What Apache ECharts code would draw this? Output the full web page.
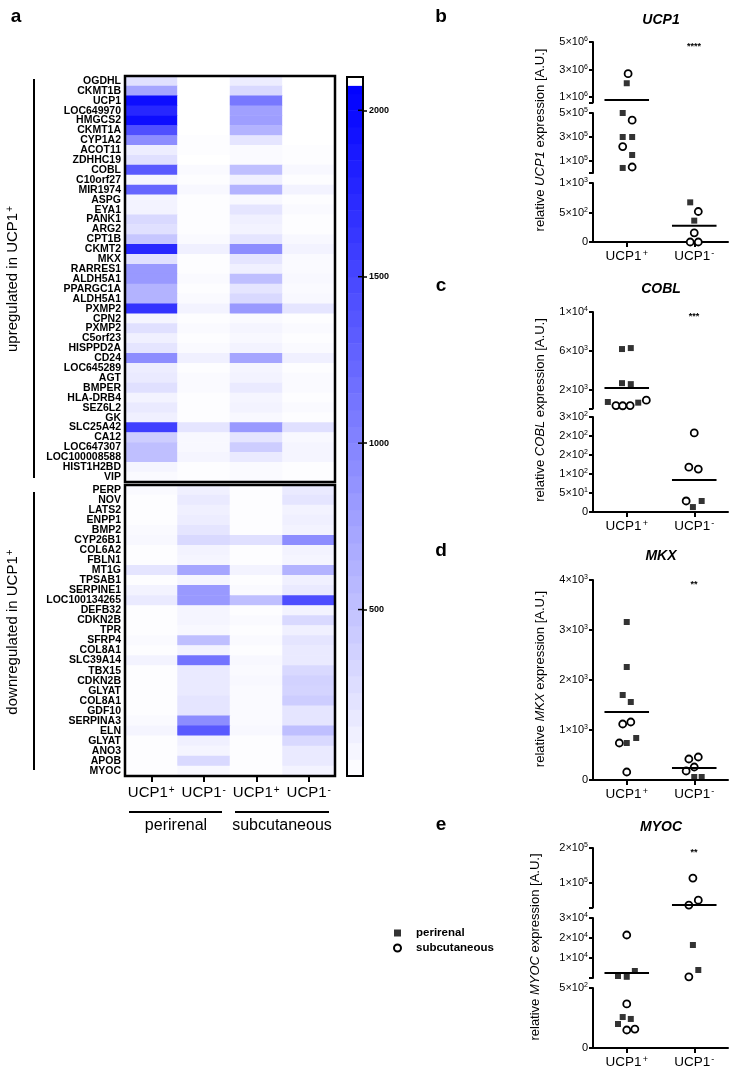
<!DOCTYPE html>
<html>
<head>
<meta charset="utf-8">
<script src="https://cdn.jsdelivr.net/npm/echarts@6/dist/echarts.min.js"></script>
<style>
html, body { margin: 0; padding: 0; background: #fff; }
#chart { width: 733px; height: 1071px; }
</style>
</head>
<body>
<div id="chart"></div>
<script>
const FONT = '"Liberation Sans", Arial, sans-serif';

// ---- panel a: heatmap ----
const heatCols = ['UCP1+', 'UCP1-', 'UCP1+', 'UCP1-'];
const upGenes = ['OGDHL', 'CKMT1B', 'UCP1', 'LOC649970', 'HMGCS2', 'CKMT1A', 'CYP1A2', 'ACOT11',
  'ZDHHC19', 'COBL', 'C10orf27', 'MIR1974', 'ASPG', 'EYA1', 'PANK1', 'ARG2', 'CPT1B', 'CKMT2',
  'MKX', 'RARRES1', 'ALDH5A1', 'PPARGC1A', 'ALDH5A1', 'PXMP2', 'CPN2', 'PXMP2', 'C5orf23',
  'HISPPD2A', 'CD24', 'LOC645289', 'AGT', 'BMPER', 'HLA-DRB4', 'SEZ6L2', 'GK', 'SLC25A42',
  'CA12', 'LOC647307', 'LOC100008588', 'HIST1H2BD', 'VIP'];
const upValues = [
  [250, 0, 150, 0], [730, 0, 310, 0], [1970, 0, 1100, 0], [1760, 0, 770, 0], [1970, 0, 790, 0],
  [1430, 0, 620, 0], [930, 20, 210, 0], [150, 20, 40, 20], [250, 0, 40, 20], [1350, 40, 520, 60],
  [80, 20, 120, 20], [1250, 60, 620, 100], [100, 20, 60, 20], [100, 20, 210, 40], [310, 20, 120, 20],
  [250, 20, 100, 20], [460, 40, 210, 60], [1760, 120, 930, 100], [250, 20, 210, 40], [830, 20, 120, 40],
  [830, 40, 520, 60], [620, 20, 210, 40], [620, 40, 310, 60], [1660, 100, 830, 210], [80, 20, 40, 20],
  [250, 40, 80, 40], [120, 20, 60, 20], [210, 40, 100, 40], [930, 120, 730, 120], [150, 20, 80, 20],
  [170, 40, 100, 40], [250, 40, 170, 40], [100, 20, 80, 20], [170, 20, 100, 40], [120, 20, 60, 20],
  [1560, 210, 830, 250], [410, 60, 210, 60], [520, 60, 410, 80], [520, 80, 170, 80], [80, 20, 40, 20],
  [40, 20, 40, 20]
];
const downGenes = ['PERP', 'NOV', 'LATS2', 'ENPP1', 'BMP2', 'CYP26B1', 'COL6A2', 'FBLN1', 'MT1G',
  'TPSAB1', 'SERPINE1', 'LOC100134265', 'DEFB32', 'CDKN2B', 'TPR', 'SFRP4', 'COL8A1', 'SLC39A14',
  'TBX15', 'CDKN2B', 'GLYAT', 'COL8A1', 'GDF10', 'SERPINA3', 'ELN', 'GLYAT', 'ANO3', 'APOB', 'MYOC'];
const downValues = [
  [40, 120, 20, 170], [20, 170, 20, 210], [20, 120, 20, 100], [20, 150, 20, 120], [40, 210, 20, 100],
  [60, 310, 250, 930], [20, 100, 20, 100], [20, 80, 20, 80], [210, 730, 100, 620], [20, 80, 20, 120],
  [100, 830, 40, 170], [170, 830, 520, 1450], [20, 80, 20, 100], [20, 80, 40, 310], [20, 60, 20, 120],
  [40, 520, 40, 210], [20, 100, 20, 170], [100, 1140, 60, 170], [20, 170, 40, 310], [20, 170, 60, 370],
  [20, 170, 40, 350], [20, 210, 40, 410], [20, 210, 40, 210], [40, 930, 40, 210], [80, 1350, 60, 520],
  [20, 120, 20, 310], [20, 80, 20, 170], [20, 310, 20, 170], [20, 60, 20, 100]
];
const heatMax = 2075;
const colorbarMax = 2100;
const colorbarTicks = [500, 1000, 1500, 2000];
const tissues = ['perirenal', 'subcutaneous'];

// ---- panels b-e: scatter, points are [x position, value] ----
const groups = ['UCP1+', 'UCP1-'];

const ucp1Peri = [[0.50, 2000000], [0.44, 500000], [0.44, 300000], [0.58, 300000], [0.58, 150000], [0.44, 42000],
  [1.44, 672], [1.50, 362]];
const ucp1Sub = [[0.52, 2700000], [0.58, 440000], [0.44, 220000], [0.58, 50000],
  [1.56, 517], [1.50, 155], [1.44, 0], [1.56, 0]];
const ucp1Mean = [[0.5, 780000], [1.5, 276]];
const ucp1Ticks = [0, 500, 1000, 100000, 300000, 500000, 1000000, 3000000, 5000000];
const ucp1TickText = ['0', '5×10^2', '1×10^3', '1×10^5', '3×10^5', '5×10^5', '1×10^6', '3×10^6', '5×10^6'];
const ucp1Breaks = [[0, 1000], [0, 500000], [600000, 5000000]];

const coblPeri = [[0.43, 6200], [0.56, 6300], [0.43, 2700], [0.56, 2600], [0.22, 770], [0.67, 700],
  [1.48, 13], [1.61, 29]];
const coblSub = [[0.34, 400], [0.44, 380], [0.55, 400], [0.79, 950],
  [1.50, 208], [1.42, 118], [1.56, 113], [1.38, 29]];
const coblMean = [[0.5, 2200], [1.5, 84]];
const coblTicks = [0, 50, 100, 150, 200, 250, 2000, 6000, 10000];
const coblTickText = ['0', '5×10^1', '1×10^2', '2×10^2', '2×10^2', '3×10^2', '2×10^3', '6×10^3', '1×10^4'];
const coblBreaks = [[0, 250], [100, 10000]];

const mkxPeri = [[0.50, 3160], [0.50, 2260], [0.44, 1700], [0.56, 1560], [0.64, 840], [0.50, 740],
  [1.50, 60], [1.61, 60]];
const mkxSub = [[0.44, 1120], [0.56, 1160], [0.39, 740], [0.50, 160],
  [1.42, 420], [1.56, 460], [1.50, 260], [1.38, 180]];
const mkxMean = [[0.5, 1360], [1.5, 240]];
const mkxTicks = [0, 1000, 2000, 3000, 4000];
const mkxTickText = ['0', '1×10^3', '2×10^3', '3×10^3', '4×10^3'];
const mkxBreaks = [[0, 4000]];

const myocPeri = [[0.37, 1000], [0.50, 600], [0.62, 3500], [0.44, 258], [0.56, 242], [0.37, 200],
  [1.48, 16500], [1.56, 4000]];
const myocSub = [[0.50, 21500], [0.50, 367], [0.50, 150], [0.62, 158],
  [1.48, 114000], [1.56, 51000], [1.42, 37000], [1.42, 600]];
const myocMean = [[0.5, 2500], [1.5, 37000]];
const myocTicks = [0, 500, 10000, 20000, 30000, 100000, 200000];
const myocTickText = ['0', '5×10^2', '1×10^4', '2×10^4', '3×10^4', '1×10^5', '2×10^5'];
const myocBreaks = [[0, 500], [0, 30000], [30000, 200000]];

// ---- layout ----
const heatLeft = 125, heatWidth = 210;
const upBox = { top: 76, height: 406 };
const downBox = { top: 485, height: 291 };
const cbar = { left: 347, top: 77, width: 16, height: 699 };
const scLeft = 593, scWidth = 135;

const panels = [
  { title: 'UCP1', stars: '****', letter: 'b', letterY: 17, titleY: 20, starY: 47, nameX: 540, nameY: 140,
    peri: ucp1Peri, sub: ucp1Sub, mean: ucp1Mean, ticks: ucp1Ticks, tickText: ucp1TickText, breaks: ucp1Breaks,
    segPx: [[183, 242], [113, 173], [42, 102.5]] },
  { title: 'COBL', stars: '***', letter: 'c', letterY: 286, titleY: 289, starY: 317, nameX: 540, nameY: 410,
    peri: coblPeri, sub: coblSub, mean: coblMean, ticks: coblTicks, tickText: coblTickText, breaks: coblBreaks,
    segPx: [[417, 512], [312, 408.5]] },
  { title: 'MKX', stars: '**', letter: 'd', letterY: 551, titleY: 556, starY: 585, nameX: 540, nameY: 679,
    peri: mkxPeri, sub: mkxSub, mean: mkxMean, ticks: mkxTicks, tickText: mkxTickText, breaks: mkxBreaks,
    segPx: [[580, 780]] },
  { title: 'MYOC', stars: '**', letter: 'e', letterY: 825, titleY: 827, starY: 853, nameX: 535, nameY: 947,
    peri: myocPeri, sub: myocSub, mean: myocMean, ticks: myocTicks, tickText: myocTickText, breaks: myocBreaks,
    segPx: [[988, 1048], [918, 978], [848, 907.5]] }
];

function supText(s) {
  const p = s.split('^');
  return p.length > 1 ? '{m|' + p[0] + '}{e|' + p[1] + '}' : '{m|' + s + '}';
}
function groupText(g, size) {
  return '{' + size + '|UCP1}{' + size + 's|' + (g.endsWith('+') ? '+' : '-') + '}';
}
function segIndex(breaks, v) {
  for (let i = 0; i < breaks.length; i++) if (v <= breaks[i][1]) return i;
  return breaks.length - 1;
}
function lerpColor(v) {
  const t = Math.min(v / heatMax, 1);
  const c = Math.round(255 * (1 - t));
  return 'rgb(' + c + ',' + c + ',255)';
}

const grids = [], xAxes = [], yAxes = [], series = [];
const graphics = [];

// heatmap grids
[[upBox, upGenes, upValues], [downBox, downGenes, downValues]].forEach(([box, genes, vals], k) => {
  grids.push({ left: heatLeft, top: box.top, width: heatWidth, height: box.height });
  xAxes.push({
    type: 'category', gridIndex: k, data: heatCols, show: k === 1,
    axisLine: { show: false },
    axisTick: { show: true, interval: 0, alignWithLabel: true, length: 6, lineStyle: { color: '#000', width: 2 } },
    axisLabel: {
      interval: 0, margin: 9, formatter: v => groupText(v, 'h'),
      rich: {
        h: { fontFamily: FONT, fontSize: 15, color: '#000' },
        hs: { fontFamily: FONT, fontSize: 10, color: '#000', verticalAlign: 'top', padding: [0, 0, 6, 1] }
      }
    }
  });
  yAxes.push({
    type: 'category', gridIndex: k, data: genes, inverse: true,
    axisLine: { show: false }, axisTick: { show: false },
    axisLabel: { interval: 0, margin: 4, fontFamily: FONT, fontSize: 10.5, fontWeight: 'bold', color: '#000' }
  });
  const d = [];
  vals.forEach((row, r) => row.forEach((v, c) => d.push([c, r, v])));
  series.push({ type: 'heatmap', xAxisIndex: k, yAxisIndex: k, data: d, silent: true });
  graphics.push({ type: 'rect', z: 10, shape: { x: heatLeft, y: box.top, width: heatWidth, height: box.height },
    style: { fill: null, stroke: '#000', lineWidth: 2.5 } });
});

// colorbar
const cbIdx = grids.length;
grids.push({ left: cbar.left, top: cbar.top, width: cbar.width, height: cbar.height });
xAxes.push({ type: 'category', gridIndex: cbIdx, data: [''], show: false });
yAxes.push({
  type: 'value', gridIndex: cbIdx, min: 0, max: colorbarMax, position: 'right',
  splitLine: { show: false }, axisLine: { show: false },
  axisTick: { show: true, customValues: colorbarTicks, length: 4, lineStyle: { color: '#000', width: 1.5 } },
  axisLabel: { customValues: colorbarTicks, margin: 6, formatter: v => String(v),
    fontFamily: FONT, fontSize: 9, fontWeight: 'bold', color: '#000' }
});
const bands = [];
for (let v = 0; v < heatMax; v += 50) bands.push([v, Math.min(v + 50, heatMax)]);
bands.push([heatMax, colorbarMax]);
series.push({
  type: 'custom', xAxisIndex: cbIdx, yAxisIndex: cbIdx, data: bands, silent: true,
  renderItem(params, api) {
    const lo = api.value(0), hi = api.value(1);
    const p0 = api.coord([0, lo]), p1 = api.coord([0, hi]);
    const w = api.size([1, 0])[0];
    return { type: 'rect', shape: { x: p0[0] - w / 2, y: p1[1], width: w, height: p0[1] - p1[1] + 0.5 },
      style: { fill: lo >= heatMax ? '#fff' : lerpColor((lo + hi) / 2) } };
  }
});
graphics.push({ type: 'rect', z: 10, shape: { x: cbar.left, y: cbar.top, width: cbar.width, height: cbar.height },
  style: { fill: null, stroke: '#000', lineWidth: 2 } });
// inner tick marks on the colorbar
series.push({
  type: 'custom', xAxisIndex: cbIdx, yAxisIndex: cbIdx, data: colorbarTicks.map(v => [v]), silent: true, z: 12,
  renderItem(params, api) {
    const p = api.coord([0, api.value(0)]);
    const w = api.size([1, 0])[0];
    return { type: 'line', shape: { x1: p[0] + w / 2 - 5, y1: p[1], x2: p[0] + w / 2 - 1, y2: p[1] },
      style: { stroke: '#000', lineWidth: 1.5 } };
  }
});

// scatter panels
const richTick = {
  m: { fontFamily: FONT, fontSize: 11, color: '#000' },
  e: { fontFamily: FONT, fontSize: 7, color: '#000', verticalAlign: 'top', padding: [0, 0, 5, 0] }
};
panels.forEach(p => {
  p.breaks.forEach((br, s) => {
    const gi = grids.length;
    const px = p.segPx[s];
    grids.push({ left: scLeft, top: px[0], width: scWidth, height: px[1] - px[0] });
    const isLow = s === 0;
    xAxes.push({
      type: 'value', gridIndex: gi, min: 0, max: 2, show: isLow,
      splitLine: { show: false },
      axisLine: { show: true, onZero: false, lineStyle: { color: '#000', width: 2 } },
      axisTick: { show: true, customValues: [0.5, 1.5], length: 5, lineStyle: { color: '#000', width: 2 } },
      axisLabel: {
        customValues: [0.5, 1.5], margin: 7,
        formatter: v => groupText(groups[v < 1 ? 0 : 1], 'g'),
        rich: {
          g: { fontFamily: FONT, fontSize: 13.5, color: '#000' },
          gs: { fontFamily: FONT, fontSize: 9, color: '#000', verticalAlign: 'top', padding: [0, 0, 5, 1] }
        }
      }
    });
    const tv = p.ticks.filter(v => segIndex(p.breaks, v) === s);
    const tickVals = isLow ? tv : [br[0]].concat(tv);
    yAxes.push({
      type: 'value', gridIndex: gi, min: br[0], max: br[1],
      splitLine: { show: false },
      axisLine: { show: true, onZero: false, lineStyle: { color: '#000', width: 2 } },
      axisTick: { show: true, customValues: tickVals, length: 4, lineStyle: { color: '#000', width: 2 } },
      axisLabel: {
        customValues: tv, margin: 5,
        formatter: v => supText(p.tickText[p.ticks.indexOf(v)]),
        rich: richTick
      }
    });
    const inSeg = arr => arr.filter(d => segIndex(p.breaks, d[1]) === s);
    series.push({
      name: tissues[0], type: 'scatter', xAxisIndex: gi, yAxisIndex: gi, data: inSeg(p.peri),
      symbol: 'rect', symbolSize: 6, itemStyle: { color: '#000' }, silent: true, z: 4
    });
    series.push({
      name: tissues[1], type: 'scatter', xAxisIndex: gi, yAxisIndex: gi, data: inSeg(p.sub),
      symbol: 'circle', symbolSize: 7,
      itemStyle: { color: '#fff', borderColor: '#000', borderWidth: 1.8, opacity: 1 }, silent: true, z: 5
    });
    series.push({
      type: 'custom', xAxisIndex: gi, yAxisIndex: gi, data: inSeg(p.mean), silent: true, z: 6,
      renderItem(params, api) {
        const c = api.coord([api.value(0), api.value(1)]);
        const w = api.size([0.33, 0])[0];
        return { type: 'line', shape: { x1: c[0] - w, y1: c[1], x2: c[0] + w, y2: c[1] },
          style: { stroke: '#000', lineWidth: 2 } };
      }
    });
  });
  graphics.push({ type: 'text', x: 441, y: p.letterY,
    style: { text: p.letter, font: 'bold 19px ' + FONT, fill: '#000', textAlign: 'center', textVerticalAlign: 'middle' } });
  graphics.push({ type: 'text', x: 661, y: p.titleY,
    style: { text: p.title, font: 'italic bold 14px ' + FONT, fill: '#000', textAlign: 'center', textVerticalAlign: 'middle' } });
  graphics.push({ type: 'text', x: 694, y: p.starY,
    style: { text: p.stars, font: 'bold 9px ' + FONT, fill: '#000', textAlign: 'center', textVerticalAlign: 'middle' } });
  graphics.push({ type: 'text', x: p.nameX, y: p.nameY, rotation: Math.PI / 2,
    style: {
      text: '{n|relative }{i|' + p.title + '}{n| expression [A.U.]}',
      textAlign: 'center', textVerticalAlign: 'middle',
      rich: {
        n: { fontFamily: FONT, fontSize: 13, fill: '#000' },
        i: { fontFamily: FONT, fontSize: 13, fontStyle: 'italic', fill: '#000' }
      }
    } });
});

// panel a annotations
graphics.push({ type: 'text', x: 16, y: 17,
  style: { text: 'a', font: 'bold 19px ' + FONT, fill: '#000', textAlign: 'center', textVerticalAlign: 'middle' } });
graphics.push({ type: 'line', shape: { x1: 34, y1: 79, x2: 34, y2: 478 }, style: { stroke: '#000', lineWidth: 2 } });
graphics.push({ type: 'line', shape: { x1: 34, y1: 492, x2: 34, y2: 770 }, style: { stroke: '#000', lineWidth: 2 } });
const sideRich = {
  t: { fontFamily: FONT, fontSize: 15, fill: '#000' },
  ts: { fontFamily: FONT, fontSize: 10, fill: '#000', verticalAlign: 'top', padding: [0, 0, 6, 1] }
};
graphics.push({ type: 'text', x: 13, y: 279, rotation: Math.PI / 2,
  style: { text: '{t|upregulated in UCP1}{ts|+}', rich: sideRich, textAlign: 'center', textVerticalAlign: 'middle' } });
graphics.push({ type: 'text', x: 13, y: 632, rotation: Math.PI / 2,
  style: { text: '{t|downregulated in UCP1}{ts|+}', rich: sideRich, textAlign: 'center', textVerticalAlign: 'middle' } });
graphics.push({ type: 'line', shape: { x1: 129, y1: 812, x2: 222, y2: 812 }, style: { stroke: '#000', lineWidth: 2.2 } });
graphics.push({ type: 'line', shape: { x1: 235, y1: 812, x2: 329, y2: 812 }, style: { stroke: '#000', lineWidth: 2.2 } });
graphics.push({ type: 'text', x: 176, y: 826,
  style: { text: tissues[0], font: '16px ' + FONT, fill: '#000', textAlign: 'center', textVerticalAlign: 'middle' } });
graphics.push({ type: 'text', x: 282, y: 826,
  style: { text: tissues[1], font: '16px ' + FONT, fill: '#000', textAlign: 'center', textVerticalAlign: 'middle' } });

const chart = echarts.init(document.getElementById('chart'));
chart.setOption({
  animation: false,
  backgroundColor: '#fff',
  visualMap: {
    show: false, type: 'continuous', min: 0, max: heatMax, seriesIndex: [0, 1], dimension: 2,
    inRange: { color: ['#ffffff', '#0000ff'] }
  },
  legend: {
    data: [{ name: tissues[0], icon: 'rect' }, { name: tissues[1], icon: 'circle' }],
    orient: 'vertical', left: 393, top: 927, padding: 0, itemWidth: 7, itemHeight: 7, itemGap: 3,
    selectedMode: false,
    textStyle: { fontFamily: FONT, fontSize: 11.5, fontWeight: 'bold', color: '#000', padding: [0, 0, 0, 10] }
  },
  grid: grids,
  xAxis: xAxes,
  yAxis: yAxes,
  series: series,
  graphic: graphics
});
</script>
</body>
</html>
